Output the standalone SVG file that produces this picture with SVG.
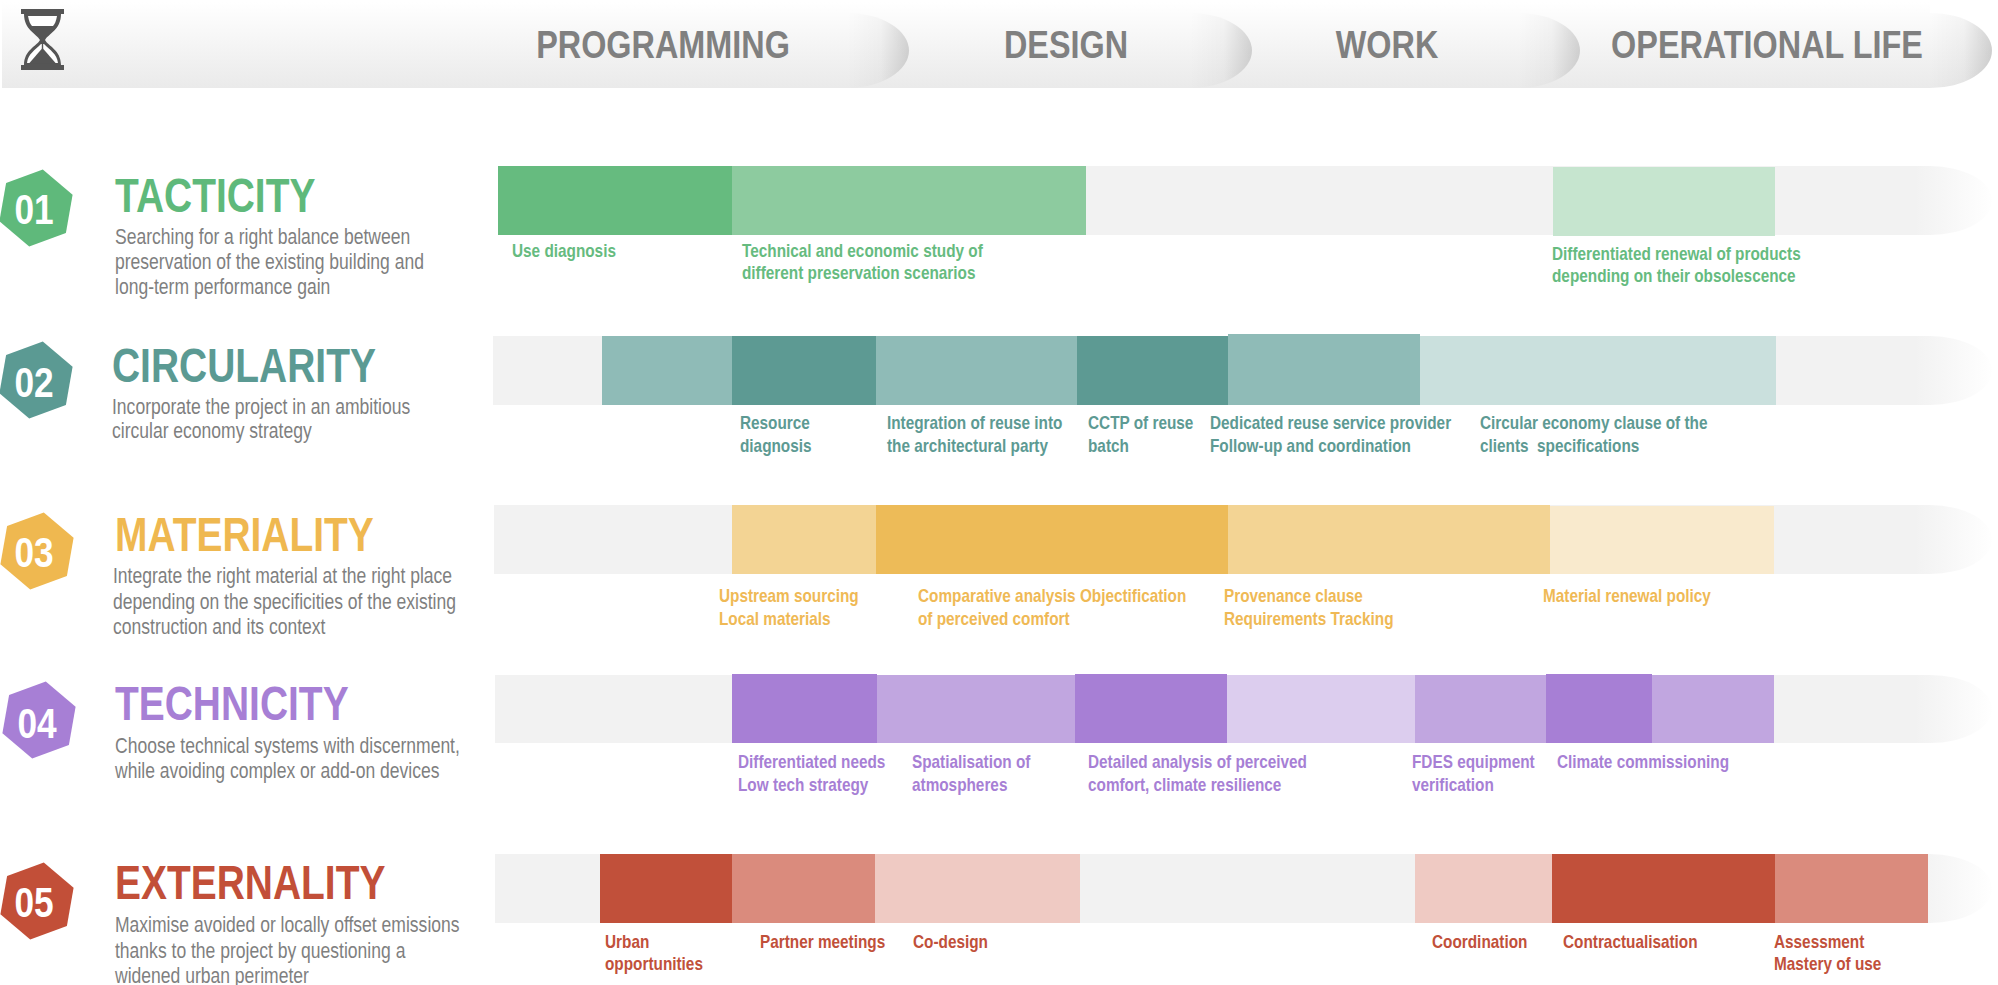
<svg xmlns="http://www.w3.org/2000/svg" width="1998" height="985" viewBox="0 0 1998 985">
<defs>
<linearGradient id="hdr" x1="0" y1="0" x2="0" y2="1"><stop offset="0" stop-color="#ffffff"/><stop offset="1" stop-color="#eaeaea"/></linearGradient>
<linearGradient id="cap" x1="0" y1="0" x2="1" y2="0"><stop offset="0" stop-color="#000" stop-opacity="0"/><stop offset="0.55" stop-color="#000" stop-opacity="0.03"/><stop offset="1" stop-color="#000" stop-opacity="0.15"/></linearGradient>
<linearGradient id="barend" gradientUnits="userSpaceOnUse" x1="1915" y1="0" x2="1995" y2="0"><stop offset="0" stop-color="#f2f2f2"/><stop offset="1" stop-color="#ffffff"/></linearGradient>
<polygon id="hex" points="36.6,-13.3 29.9,25.1 -6.8,38.4 -36.6,13.3 -29.9,-25.1 6.8,-38.4"/>
</defs>
<style>
text{font-family:"Liberation Sans",Arial,sans-serif}
.ph{font-size:39.5px;font-weight:bold;fill:#808080;text-anchor:middle}
.num{font-size:43px;font-weight:bold;fill:#ffffff;text-anchor:middle}
.ttl{font-size:47.5px;font-weight:bold}
.dsc{font-size:21.4px;fill:#7f7f7f}
.lbl{font-size:18.7px;font-weight:bold}
.g1{fill:#5fb97b}.g2{fill:#5b9a93}.g3{fill:#efb850}.g4{fill:#a77fd5}.g5{fill:#c24f38}
.bar{fill:url(#barend)}
</style>
<rect width="1998" height="985" fill="#ffffff"/>

<g id="header">
<path d="M2,2 H1930 V13 A62,37.5 0 0 1 1930,88 H2 Z" fill="url(#hdr)"/>
<path d="M847,13 A62,37.5 0 0 1 847,88 Z" fill="url(#cap)"/>
<path d="M1190,13 A62,37.5 0 0 1 1190,88 Z" fill="url(#cap)"/>
<path d="M1518,13 A62,37.5 0 0 1 1518,88 Z" fill="url(#cap)"/>
<path d="M1930,13 A62,37.5 0 0 1 1930,88 Z" fill="url(#cap)"/>
<g id="hourglass" fill="#555555">
<rect x="21" y="9" width="43" height="5"/>
<rect x="21" y="65" width="43" height="5"/>
<path d="M24,14 H61 C61,30 48,34 45,40 C48,46 61,50 61,65 H24 C24,50 37,46 40,40 C37,34 24,30 24,14 Z"/>
<path d="M28,16 H57 C56,21 55,24 53,26 H32 C30,24 29,21 28,16 Z" fill="#ffffff"/>
<path d="M41,44 H44 C50,50 57,54 58,63 H27 C28,54 35,50 41,44 Z" fill="#ffffff"/>
<path d="M42.5,48 L56,63.5 H29 Z"/>
<rect x="41.8" y="40" width="1.4" height="9"/>
</g>
<text class="ph" transform="matrix(.82 0 0 1 663 58)">PROGRAMMING</text>
<text class="ph" transform="matrix(.82 0 0 1 1066 58)">DESIGN</text>
<text class="ph" transform="matrix(.82 0 0 1 1387 58)">WORK</text>
<text class="ph" transform="matrix(.82 0 0 1 1767 58)">OPERATIONAL LIFE</text>
</g>

<g id="row1">
<use href="#hex" x="36" y="208" class="g1"/>
<text class="num" transform="matrix(.82 0 0 1 34 224)">01</text>
<text class="ttl g1" transform="matrix(.82 0 0 1 115 212)">TACTICITY</text>
<text class="dsc" transform="matrix(.82 0 0 1 115 244)">Searching for a right balance between</text>
<text class="dsc" transform="matrix(.82 0 0 1 115 269)">preservation of the existing building and</text>
<text class="dsc" transform="matrix(.82 0 0 1 115 294)">long-term performance gain</text>
<path class="bar" d="M498,166 H1930 A62,34.5 0 0 1 1930,235 H498 Z"/>
<rect x="498" y="166" width="234" height="69" fill="#66bb7f"/>
<rect x="732" y="166" width="354" height="69" fill="#8dcb9f"/>
<rect x="1553" y="167" width="222" height="69" fill="#c6e5cf"/>
<g class="lbl" fill="#66bb7f">
<text transform="matrix(.82 0 0 1 512 257)">Use diagnosis</text>
<text transform="matrix(.82 0 0 1 742 257)">Technical and economic study of</text>
<text transform="matrix(.82 0 0 1 742 279)">different preservation scenarios</text>
<text transform="matrix(.82 0 0 1 1552 260)">Differentiated renewal of products</text>
<text transform="matrix(.82 0 0 1 1552 282)">depending on their obsolescence</text>
</g>
</g>

<g id="row2">
<use href="#hex" x="36" y="380" class="g2"/>
<text class="num" transform="matrix(.82 0 0 1 34 397)">02</text>
<text class="ttl g2" transform="matrix(.82 0 0 1 112 382)">CIRCULARITY</text>
<text class="dsc" transform="matrix(.82 0 0 1 112 414)">Incorporate the project in an ambitious</text>
<text class="dsc" transform="matrix(.82 0 0 1 112 438)">circular economy strategy</text>
<path class="bar" d="M493,336 H1930 A62,34.5 0 0 1 1930,405 H493 Z"/>
<rect x="602" y="336" width="130" height="69" fill="#8fbbb7"/>
<rect x="732" y="336" width="144" height="69" fill="#5d9a93"/>
<rect x="876" y="336" width="201" height="69" fill="#8fbbb7"/>
<rect x="1077" y="336" width="151" height="69" fill="#5d9a93"/>
<rect x="1228" y="334" width="192" height="71" fill="#8fbbb7"/>
<rect x="1420" y="336" width="356" height="69" fill="#cae0dd"/>
<g class="lbl" fill="#5d9a93">
<text transform="matrix(.82 0 0 1 740 429)">Resource</text>
<text transform="matrix(.82 0 0 1 740 452)">diagnosis</text>
<text transform="matrix(.82 0 0 1 887 429)">Integration of reuse into</text>
<text transform="matrix(.82 0 0 1 887 452)">the architectural party</text>
<text transform="matrix(.82 0 0 1 1088 429)">CCTP of reuse</text>
<text transform="matrix(.82 0 0 1 1088 452)">batch</text>
<text transform="matrix(.82 0 0 1 1210 429)">Dedicated reuse service provider</text>
<text transform="matrix(.82 0 0 1 1210 452)">Follow-up and coordination</text>
<text transform="matrix(.82 0 0 1 1480 429)">Circular economy clause of the</text>
<text transform="matrix(.82 0 0 1 1480 452)">clients&#160; specifications</text>
</g>
</g>

<g id="row3">
<use href="#hex" x="37" y="551" class="g3"/>
<text class="num" transform="matrix(.82 0 0 1 34 567)">03</text>
<text class="ttl g3" transform="matrix(.82 0 0 1 115 551)">MATERIALITY</text>
<text class="dsc" transform="matrix(.82 0 0 1 113 583)">Integrate the right material at the right place</text>
<text class="dsc" transform="matrix(.82 0 0 1 113 609)">depending on the specificities of the existing</text>
<text class="dsc" transform="matrix(.82 0 0 1 113 634)">construction and its context</text>
<path class="bar" d="M494,505 H1930 A62,34.5 0 0 1 1930,574 H494 Z"/>
<rect x="732" y="505" width="144" height="69" fill="#f3d494"/>
<rect x="876" y="505" width="352" height="69" fill="#edbb58"/>
<rect x="1228" y="505" width="322" height="69" fill="#f3d494"/>
<rect x="1550" y="506" width="224" height="68" fill="#f9eacd"/>
<g class="lbl" fill="#efb955">
<text transform="matrix(.82 0 0 1 719 602)">Upstream sourcing</text>
<text transform="matrix(.82 0 0 1 719 625)">Local materials</text>
<text transform="matrix(.82 0 0 1 918 602)">Comparative analysis Objectification</text>
<text transform="matrix(.82 0 0 1 918 625)">of perceived comfort</text>
<text transform="matrix(.82 0 0 1 1224 602)">Provenance clause</text>
<text transform="matrix(.82 0 0 1 1224 625)">Requirements Tracking</text>
<text transform="matrix(.82 0 0 1 1543 602)">Material renewal policy</text>
</g>
</g>

<g id="row4">
<use href="#hex" x="39" y="720" class="g4"/>
<text class="num" transform="matrix(.82 0 0 1 37 738)">04</text>
<text class="ttl g4" transform="matrix(.82 0 0 1 115 720)">TECHNICITY</text>
<text class="dsc" transform="matrix(.82 0 0 1 115 753)">Choose technical systems with discernment,</text>
<text class="dsc" transform="matrix(.82 0 0 1 115 778)">while avoiding complex or add-on devices</text>
<path class="bar" d="M495,675 H1930 A62,34 0 0 1 1930,743 H495 Z"/>
<rect x="732" y="674" width="145" height="69" fill="#a77fd5"/>
<rect x="877" y="675" width="198" height="68" fill="#c1a6e0"/>
<rect x="1075" y="674" width="152" height="69" fill="#a77fd5"/>
<rect x="1227" y="675" width="188" height="68" fill="#dccdee"/>
<rect x="1415" y="675" width="131" height="68" fill="#c1a6e0"/>
<rect x="1546" y="674" width="106" height="69" fill="#a77fd5"/>
<rect x="1652" y="675" width="122" height="68" fill="#c1a6e0"/>
<g class="lbl" fill="#a77fd5">
<text transform="matrix(.82 0 0 1 738 768)">Differentiated needs</text>
<text transform="matrix(.82 0 0 1 738 791)">Low tech strategy</text>
<text transform="matrix(.82 0 0 1 912 768)">Spatialisation of</text>
<text transform="matrix(.82 0 0 1 912 791)">atmospheres</text>
<text transform="matrix(.82 0 0 1 1088 768)">Detailed analysis of perceived</text>
<text transform="matrix(.82 0 0 1 1088 791)">comfort, climate resilience</text>
<text transform="matrix(.82 0 0 1 1412 768)">FDES equipment</text>
<text transform="matrix(.82 0 0 1 1412 791)">verification</text>
<text transform="matrix(.82 0 0 1 1557 768)">Climate commissioning</text>
</g>
</g>

<g id="row5">
<use href="#hex" x="37" y="901" class="g5"/>
<text class="num" transform="matrix(.82 0 0 1 34 917)">05</text>
<text class="ttl g5" transform="matrix(.82 0 0 1 115 899)">EXTERNALITY</text>
<text class="dsc" transform="matrix(.82 0 0 1 115 932)">Maximise avoided or locally offset emissions</text>
<text class="dsc" transform="matrix(.82 0 0 1 115 958)">thanks to the project by questioning a</text>
<text class="dsc" transform="matrix(.82 0 0 1 115 983)">widened urban perimeter</text>
<path class="bar" d="M495,854 H1930 A62,34.5 0 0 1 1930,923 H495 Z"/>
<rect x="600" y="854" width="132" height="69" fill="#c1503a"/>
<rect x="732" y="854" width="143" height="69" fill="#da8b7d"/>
<rect x="875" y="854" width="205" height="69" fill="#efcac3"/>
<rect x="1415" y="854" width="137" height="69" fill="#efcac3"/>
<rect x="1552" y="854" width="223" height="69" fill="#c1503a"/>
<rect x="1775" y="854" width="153" height="69" fill="#da8b7d"/>
<g class="lbl" fill="#c1503a">
<text transform="matrix(.82 0 0 1 605 948)">Urban</text>
<text transform="matrix(.82 0 0 1 605 970)">opportunities</text>
<text transform="matrix(.82 0 0 1 760 948)">Partner meetings</text>
<text transform="matrix(.82 0 0 1 913 948)">Co-design</text>
<text transform="matrix(.82 0 0 1 1432 948)">Coordination</text>
<text transform="matrix(.82 0 0 1 1563 948)">Contractualisation</text>
<text transform="matrix(.82 0 0 1 1774 948)">Assessment</text>
<text transform="matrix(.82 0 0 1 1774 970)">Mastery of use</text>
</g>
</g>
</svg>
